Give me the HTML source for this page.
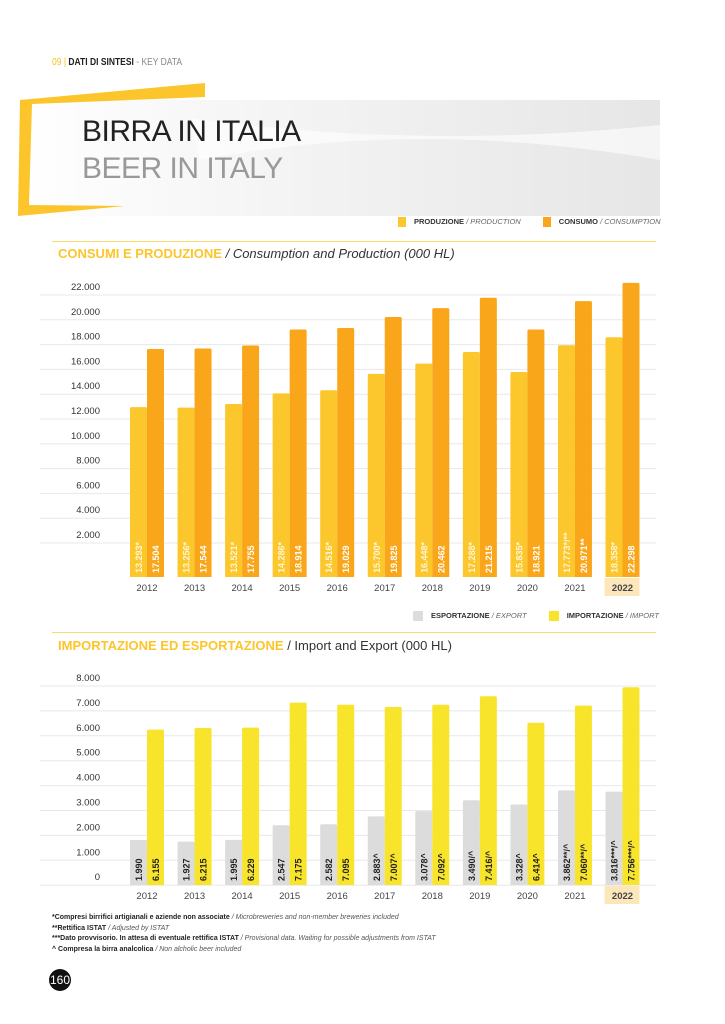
<!DOCTYPE html>
<html><head><meta charset="utf-8">
<style>
body{margin:0;width:725px;height:1024px;background:#fff;font-family:"Liberation Sans",sans-serif;position:relative;overflow:hidden}
.abs{position:absolute}
svg{position:absolute;left:0;top:0}
</style></head>
<body>
<div class="abs" style="left:52px;top:57px;font-size:10px;transform:scaleX(0.85);transform-origin:left"><span style="color:#f5c518">09</span> <span style="color:#f5c518">|</span> <b style="color:#222">DATI DI SINTESI</b><span style="color:#888"> - KEY DATA</span></div>

<svg width="725" height="1024">
<defs><linearGradient id="g" x1="0" x2="1"><stop offset="0" stop-color="#fff"/><stop offset="0.4" stop-color="#f4f4f4"/><stop offset="1" stop-color="#e6e6e6"/></linearGradient></defs>
<rect x="20" y="100" width="640" height="116" fill="url(#g)"/>
<path d="M190 118 Q420 150 660 125 L660 160 Q420 118 200 160Z" fill="#fff" opacity="0.6"/>
<polygon points="20,100 205,83 205,97 32,104 29,205 125,206 18,216" fill="#fbc52b"/>
</svg>
<div class="abs" style="left:82px;top:115px;font-size:30px;color:#222;letter-spacing:-0.5px">BIRRA IN ITALIA</div>
<div class="abs" style="left:82px;top:152px;font-size:30px;color:#999;letter-spacing:-0.5px">BEER IN ITALY</div>

<div class="abs" style="left:398px;top:217px;font-size:7.5px;color:#333;white-space:nowrap">
<span><span style="display:inline-block;width:8px;height:10px;background:#fcc72c;vertical-align:middle;margin-right:8px"></span><b>PRODUZIONE</b> <i style="color:#666">/ PRODUCTION</i></span>
<span style="margin-left:20px"><span style="display:inline-block;width:8px;height:10px;background:#f9a61a;vertical-align:middle;margin-right:8px"></span><b>CONSUMO</b> <i style="color:#666">/ CONSUMPTION</i></span></div>
<div class="abs" style="left:52px;top:241px;width:604px;height:1px;background:#fbd96a"></div>
<div class="abs" style="left:58px;top:246px;font-size:13px;color:#333;white-space:nowrap"><b style="color:#fbc52b">CONSUMI E PRODUZIONE</b> <i>/ Consumption and Production (000 HL)</i></div>

<div class="abs" style="left:413px;top:611px;font-size:7.5px;color:#333;white-space:nowrap">
<span><span style="display:inline-block;width:10px;height:10px;background:#ddd;vertical-align:middle;margin-right:8px"></span><b>ESPORTAZIONE</b> <i style="color:#666">/ EXPORT</i></span>
<span style="margin-left:20px"><span style="display:inline-block;width:10px;height:10px;background:#f8e42a;vertical-align:middle;margin-right:8px"></span><b>IMPORTAZIONE</b> <i style="color:#666">/ IMPORT</i></span></div>
<div class="abs" style="left:52px;top:632px;width:604px;height:1px;background:#fbd96a"></div>
<div class="abs" style="left:58px;top:638px;font-size:13px;color:#333;white-space:nowrap"><b style="color:#fbc52b">IMPORTAZIONE ED ESPORTAZIONE</b> / Import and Export (000 HL)</div>

<svg id="c" width="725" height="1024"></svg>

<div class="abs" style="left:52px;top:913px;font-size:7px;line-height:10.5px;color:#222">
<div><b>*Compresi birrifici artigianali e aziende non associate</b> <i style="color:#555">/ Microbreweries and non-member breweries included</i></div>
<div><b>**Rettifica ISTAT</b> <i style="color:#555">/ Adjusted by ISTAT</i></div>
<div><b>***Dato provvisorio. In attesa di eventuale rettifica ISTAT</b> <i style="color:#555">/ Provisional data. Waiting for possible adjustments from ISTAT</i></div>
<div><b>^ Compresa la birra analcolica</b> <i style="color:#555">/ Non alcholic beer included</i></div></div>
<div class="abs" style="left:49px;top:969px;width:22px;height:22px;border-radius:50%;background:#111;color:#fff;font-size:12px;line-height:22px;text-align:center">160</div>

<script>
const years=['2012','2013','2014','2015','2016','2017','2018','2019','2020','2021','2022'];
const production=[13293,13256,13521,14286,14516,15700,16448,17288,15835,17773,18358];
const consumption=[17504,17544,17755,18914,19029,19825,20462,21215,18921,20971,22298];
const productionLabels=['13.293*','13.256*','13.521*','14.286*','14.516*','15.700*','16.448*','17.288*','15.835*','17.773*/**','18.358*'];
const consumptionLabels=['17.504','17.544','17.755','18.914','19.029','19.825','20.462','21.215','18.921','20.971**','22.298'];
const ticks1=['22.000','20.000','18.000','16.000','14.000','12.000','10.000','8.000','6.000','4.000','2.000'];
const exportVals=[1990,1927,1995,2547,2582,2883,3078,3490,3328,3862,3816];
const importVals=[6155,6215,6229,7175,7095,7007,7092,7416,6414,7060,7756];
const exportLabels=['1.990','1.927','1.995','2.547','2.582','2.883^','3.078^','3.490/^','3.328^','3.862**/^','3.816***/^'];
const importLabels=['6.155','6.215','6.229','7.175','7.095','7.007^','7.092^','7.416/^','6.414^','7.060**/^','7.756***/^'];
const ticks2=['8.000','7.000','6.000','5.000','4.000','3.000','2.000','1.000','0'];

const svg=document.getElementById('c');const NS='http://www.w3.org/2000/svg';
function mk(t,a,p){const e=document.createElementNS(NS,t);for(const k in a)e.setAttribute(k,a[k]);(p||svg).appendChild(e);return e;}
const gx=i=>130+i*47.55;
function y1(v){return 349-(v-17504)*0.0138;}
function y2(v){return 840-(v-1990)*0.0265;}

function chart(opts){
 const g=mk('g',{});
 opts.ticks.forEach((t,i)=>{const y=opts.gy0+i*opts.gstep;
  const l=mk('line',{x1:40,x2:656,y1:y,y2:y,stroke:'#e8e8e8','stroke-width':1},g);
  
  const tx=mk('text',{x:100,y:y-5,'text-anchor':'end','font-size':9.5,fill:'#333'},g);tx.textContent=t;
  });
 const hl=mk('rect',{x:gx(10)-1,y:opts.base+1,width:35,height:18,fill:'#fce7bb'},g);
 
 years.forEach((yr,i)=>{
  [[opts.a,opts.al,opts.ca,opts.ta,'a'],[opts.b,opts.bl,opts.cb,opts.tb,'b']].forEach((s,j)=>{
   const x=gx(i)+j*17;const top=opts.y(s[0][i]);
   const r=mk('path',{d:`M${x} ${opts.base}V${top+1.5}Q${x} ${top} ${x+1.5} ${top}H${x+15.5}Q${x+17} ${top} ${x+17} ${top+1.5}V${opts.base}Z`,fill:s[2]},g);
   
   const t=mk('text',{x:0,y:0,'font-size':9,'font-weight':'bold',fill:s[3],transform:`translate(${x+12},${opts.base-4}) rotate(-90)`},g);
   t.textContent=s[1][i];});
  const yl=mk('text',{x:gx(i)+17,y:opts.base+14,'text-anchor':'middle','font-size':9.5,fill:'#444','font-weight':i==10?'bold':'normal'},g);
  yl.textContent=yr;});
}
chart({name:'production-consumption-chart',ticks:ticks1,gy0:295,gstep:24.8,base:577,y:y1,a:production,al:productionLabels,ca:'#fcc72c',ta:'#fff6d8',b:consumption,bl:consumptionLabels,cb:'#f9a61a',tb:'#fff',sn:['production','consumption']});
chart({name:'import-export-chart',ticks:ticks2,gy0:686,gstep:24.9,base:885,y:y2,a:exportVals,al:exportLabels,ca:'#dcdcdc',ta:'#222',b:importVals,bl:importLabels,cb:'#f8e42a',tb:'#222',sn:['export','import']});
</script>
</body></html>
